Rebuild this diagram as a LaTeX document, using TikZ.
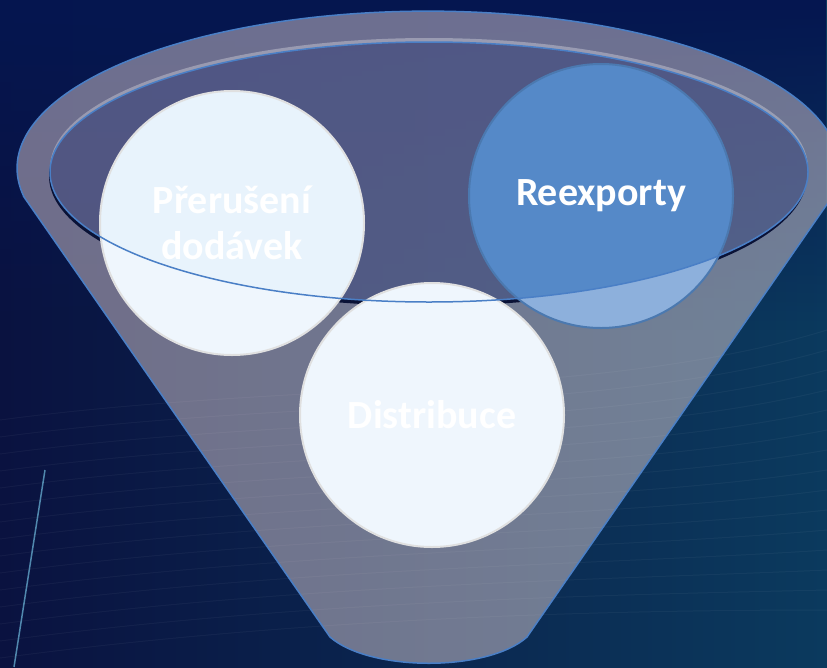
\documentclass[tikz,border=0pt]{standalone}
\usepackage{fontspec}
\setmainfont{Carlito}
\usetikzlibrary{fadings}

\definecolor{bgleft}{HTML}{0A1240}
\definecolor{bgright}{HTML}{0B3A5E}
\definecolor{bgtop}{HTML}{051650}
\definecolor{rimblue}{HTML}{4A7FC6}
\definecolor{bubbletop}{HTML}{E8F3FC}
\definecolor{bubblelow}{HTML}{EFF6FD}
\definecolor{reextop}{HTML}{5589C8}
\definecolor{reexlow}{HTML}{8DB0DC}
\definecolor{mouthfill}{HTML}{1A2A70}
\definecolor{mouthshadow}{HTML}{0A1236}

\tikzset{
	bubble/.style = {circle, minimum size = 264pt, inner sep = 0pt, draw = black!12, line width = 2pt,
		text = white, align = center, font = \bfseries\fontsize{40}{46}\selectfont},
	reexbubble/.style = {bubble, draw = reextop!88!black}
}

\def\mouth{(429,172) ellipse [x radius = 379pt, y radius = 130pt]}
\def\funnel{(24,197) -- (330,637) .. controls (370,672) and (488,672) .. (527,637) -- (832,197) arc [start angle = -10.6, end angle = 190.6, x radius = 411pt, y radius = 157pt] -- cycle}

\begin{document}
\begin{tikzpicture}[x = 1pt, y = -1pt]
		\useasboundingbox (0,0) rectangle (827,667);
		\shade [left color = bgleft, right color = bgright] (0,0) rectangle (827,667);
		\fill [bgtop, path fading = south] (0,0) rectangle (827,330);
		\foreach \k in {0,...,14}
			\draw [white, opacity = 0.04, line width = 1pt] (0,{420+\k*17}) .. controls (300,{380+\k*17}) and (600,{400+\k*15}) .. (827,{330+\k*20});
		\draw [cyan!50!white, opacity = 0.6, line width = 1.5pt] (45,470) -- (14,667);

		\fill [white!92!red, opacity = 0.42] \funnel;
		\begin{scope}
			\clip (428,176) ellipse [x radius = 379pt, y radius = 130pt];
			\fill [mouthshadow, even odd rule] (0,0) rectangle (827,667) \mouth;
		\end{scope}
		\begin{scope}
			\clip (429,168) ellipse [x radius = 379pt, y radius = 130pt];
			\fill [white, opacity = 0.3, even odd rule] (0,0) rectangle (827,667) \mouth;
		\end{scope}
		\fill [mouthfill, opacity = 0.35] \mouth;

		\coordinate (cprer) at (232,223);
		\coordinate (creex) at (601,196);
		\coordinate (cdist) at (432,415);

		\fill [bubblelow] (cprer) circle [radius = 132pt];
		\fill [reexlow] (creex) circle [radius = 132pt];
		\begin{scope}
			\clip \mouth;
			\fill [bubbletop] (cprer) circle [radius = 132pt];
			\fill [reextop] (creex) circle [radius = 132pt];
		\end{scope}
		\fill [bubblelow] (cdist) circle [radius = 132pt];

		\node [bubble] (prer) at (cprer) {Přerušení\\dodávek};
		\node [reexbubble] (reex) at (creex) {Reexporty};
		\node [bubble] (dist) at (cdist) {Distribuce};

		\draw [rimblue, line width = 1.5pt] \mouth;
		\draw [rimblue, line width = 1.5pt] \funnel;
\end{tikzpicture}
\end{document}
